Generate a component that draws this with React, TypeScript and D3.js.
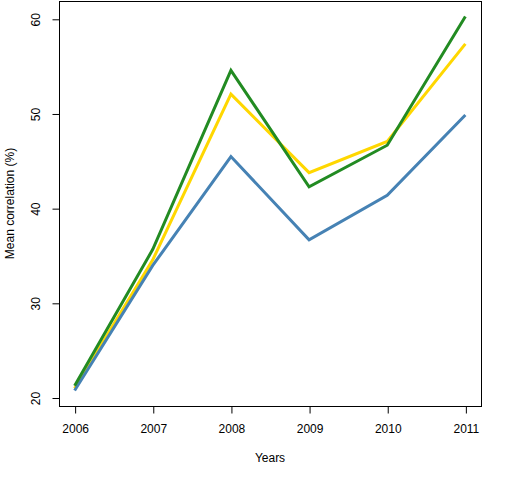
import { useEffect, useRef } from 'react';
import * as d3 from 'd3';

const years = [2006, 2007, 2008, 2009, 2010, 2011];
const greenValues = [21.3, 35.7, 54.6, 42.3, 46.7, 60.3];
const goldValues = [21.0, 34.6, 52.1, 43.8, 47.1, 57.4];
const blueValues = [20.8, 34.0, 45.5, 36.7, 41.4, 49.9];
const yTicks = [20, 30, 40, 50, 60];

const series = [
  { name: 'gold', color: '#FFD700', values: goldValues },
  { name: 'blue', color: '#4682B4', values: blueValues },
  { name: 'green', color: '#228B22', values: greenValues },
];

const WIDTH = 512;
const HEIGHT = 480;
const FONT = 'Liberation Sans, Arial, sans-serif';

export default function App() {
  const svgRef = useRef<SVGSVGElement>(null);

  useEffect(() => {
    if (!svgRef.current) return;
    const svg = d3.select(svgRef.current);
    svg.selectAll('*').remove();

    const box = { left: 59, right: 481, top: 1, bottom: 406 };

    // R-style 4% padding on x
    const xScale = d3.scaleLinear()
      .domain([2006 - 0.2, 2011 + 0.2])
      .range([box.left, box.right]);

    const yScale = d3.scaleLinear()
      .domain([20, 60])
      .range([398, 19.3]);

    // Lines
    const line = d3.line<number>()
      .x((_, i) => xScale(years[i]))
      .y(d => yScale(d));

    series.forEach(s => {
      svg.append('path')
        .datum(s.values)
        .attr('d', line)
        .attr('fill', 'none')
        .attr('stroke', s.color)
        .attr('stroke-width', 3)
        .attr('stroke-linejoin', 'miter');
    });

    // Box
    svg.append('rect')
      .attr('x', box.left + 0.5)
      .attr('y', box.top + 0.5)
      .attr('width', box.right - box.left)
      .attr('height', box.bottom - box.top)
      .attr('fill', 'none')
      .attr('stroke', '#000')
      .attr('stroke-width', 1);

    // X axis
    const xAxis = svg.append('g')
      .attr('transform', `translate(0.5,${box.bottom + 0.5})`)
      .call(d3.axisBottom(xScale).tickValues(years).tickFormat(d3.format('d')).tickSize(7).tickPadding(11));

    xAxis.select('.domain').remove();
    xAxis.selectAll('line').attr('stroke', '#000');
    xAxis.selectAll('text')
      .style('font-family', FONT)
      .style('font-size', '12px')
      .style('fill', '#000');

    // Y axis
    const yAxis = svg.append('g')
      .attr('transform', `translate(${box.left + 0.5},0.5)`)
      .call(d3.axisLeft(yScale).tickValues(yTicks).tickSize(7).tickFormat(d3.format('d')));

    yAxis.select('.domain').remove();
    yAxis.selectAll('line').attr('stroke', '#000');
    yAxis.selectAll('text')
      .attr('x', 0)
      .attr('dy', 0)
      .attr('text-anchor', 'middle')
      .attr('transform', d => `translate(-23,${yScale(d as number)}) rotate(-90)`)
      .attr('y', 0)
      .attr('dominant-baseline', 'middle')
      .style('font-family', FONT)
      .style('font-size', '12px')
      .style('fill', '#000');
    yAxis.selectAll('.tick').attr('transform', null);
    yAxis.selectAll('.tick line')
      .attr('y1', d => yScale(d as number))
      .attr('y2', d => yScale(d as number));

    // Axis titles
    svg.append('text')
      .attr('x', (box.left + box.right) / 2)
      .attr('y', 462)
      .attr('text-anchor', 'middle')
      .style('font-family', FONT)
      .style('font-size', '12px')
      .text('Years');

    svg.append('text')
      .attr('transform', `translate(14,${(box.top + box.bottom) / 2}) rotate(-90)`)
      .attr('text-anchor', 'middle')
      .style('font-family', FONT)
      .style('font-size', '12px')
      .text('Mean correlation (%)');
  }, []);

  return (
    <div style={{ position: 'absolute', left: 0, top: 0 }}>
      <svg ref={svgRef} width={WIDTH} height={HEIGHT} style={{ display: 'block', background: '#fff' }} />
    </div>
  );
}
